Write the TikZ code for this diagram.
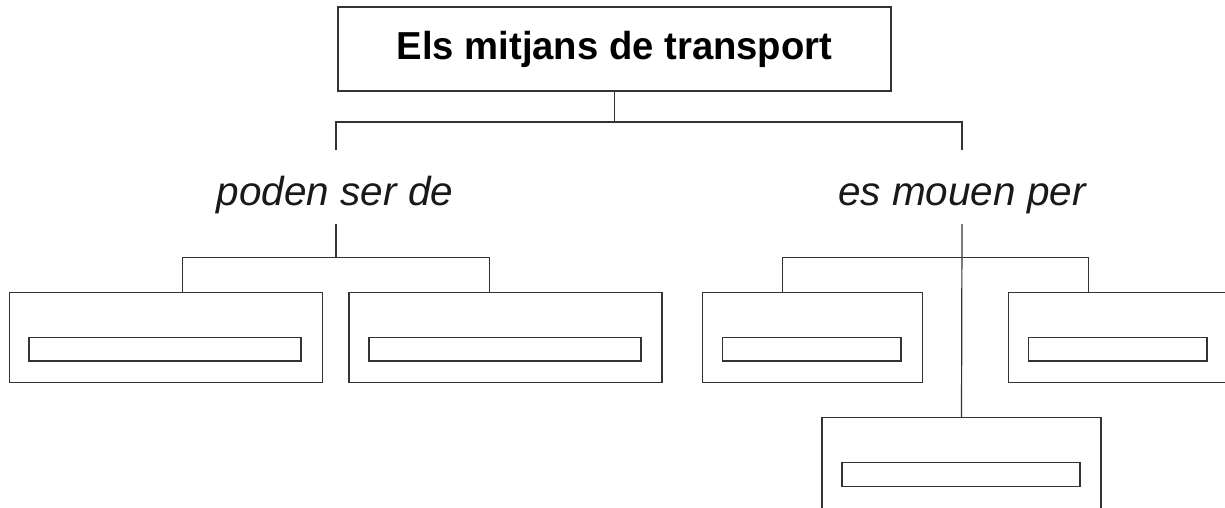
\documentclass[tikz,border=0pt]{standalone}
\usepackage{fontspec}
\setmainfont{Liberation Sans}
\newfontfamily\titlefont{Liberation Sans}[FakeStretch=0.98]
\begin{document}
\begin{tikzpicture}[x=1pt,y=-1pt,
  line width=1.2pt, draw=black!80,
  box/.style={draw=black!80, rectangle, inner sep=0pt, outer sep=0pt},
  titlebox/.style={box, minimum width=553pt, minimum height=84pt,
     font=\titlefont\bfseries\fontsize{39}{46}\selectfont},
  outerbox/.style={box, minimum height=90pt},
  innerbox/.style={box, minimum height=23.3pt},
  lbl/.style={inner sep=0pt, anchor=base, font=\itshape\fontsize{40.5}{48}\selectfont, text=black!90},
  conn/.style={draw=black!80, line width=1.2pt}]
\useasboundingbox (0,0) rectangle (1225,507);
\clip (0,0) rectangle (1225,507);
% title
\node[titlebox] (title) at (614.5,49) {\raisebox{-0.5pt}{Els mitjans de transport}};
% labels
\node[lbl] (l1) at (335,205) {poden ser de};
\node[lbl] (l2) at (962,205) {es mouen per};
% outer boxes
\node[outerbox, minimum width=312.7pt] (b1) at (165.85,337.5) {};
\node[outerbox, minimum width=313pt] (b2) at (505.5,337.5) {};
\node[outerbox, minimum width=219.9pt] (b3) at (812.45,337.5) {};
\node[outerbox, minimum width=220pt] (b4) at (1118.5,337.5) {};
\node[outerbox, minimum width=279pt, minimum height=96pt] (b5) at (961.5,465.7) {};
% inner boxes
\node[innerbox, minimum width=272pt] (i1) at (165,349.35) {};
\node[innerbox, minimum width=272pt] (i2) at (505,349.35) {};
\node[innerbox, minimum width=178.3pt] (i3) at (811.75,349.35) {};
\node[innerbox, minimum width=178.3pt] (i4) at (1117.75,349.35) {};
\node[innerbox, minimum width=238pt] (i5) at (961,474.5) {};
% junction coordinates
\coordinate (j0) at (614.5,122);
\coordinate (t1) at (336,150);
\coordinate (t2) at (962,150);
\coordinate (s1) at (336,224);
\coordinate (h1) at (336,257.5);
\coordinate (s2) at (962,224);
\coordinate (h2) at (962,257.5);
% connectors
\draw[conn] (title.south) -- (j0);
\draw[conn] (t1) |- (j0) -| (t2);
\draw[conn] (s1) -- (h1);
\draw[conn] ([xshift=17pt]b1.north) |- (h1) -| ([xshift=-16pt]b2.north);
\draw[conn] (s2) -- (b5.north);
\draw[conn] ([xshift=-30pt]b3.north) |- (h2) -| ([xshift=-30pt]b4.north);
\end{tikzpicture}
\end{document}
